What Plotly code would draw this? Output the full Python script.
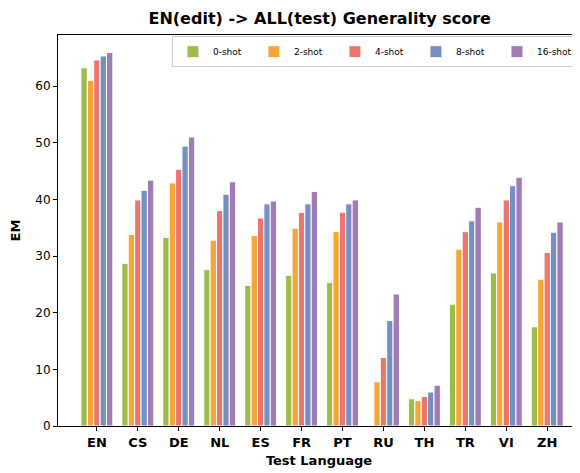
import plotly.graph_objects as go

languages = ["EN", "CS", "DE", "NL", "ES", "FR", "PT", "RU", "TH", "TR", "VI", "ZH"]
series_names = ["0-shot", "2-shot", "4-shot", "8-shot", "16-shot"]

shot0 = [63.2, 28.7, 33.3, 27.6, 24.8, 26.6, 25.3, 0.0, 4.8, 21.5, 27.0, 17.5]
shot2 = [61.0, 33.8, 42.9, 32.8, 33.6, 34.9, 34.3, 7.8, 4.5, 31.2, 36.0, 25.9]
shot4 = [64.6, 39.9, 45.3, 38.0, 36.7, 37.7, 37.7, 12.1, 5.2, 34.3, 39.9, 30.6]
shot8 = [65.3, 41.6, 49.4, 40.9, 39.2, 39.2, 39.2, 18.6, 6.0, 36.2, 42.4, 34.2]
shot16 = [65.9, 43.4, 51.0, 43.1, 39.7, 41.4, 39.9, 23.3, 7.2, 38.6, 43.9, 36.0]

colors = ["#9bbb4a", "#f5a637", "#ee756e", "#768fc2", "#a07cb6"]
all_series = [shot0, shot2, shot4, shot8, shot16]

font = "DejaVu Sans, Liberation Sans, sans-serif"

fig = go.Figure()
for name, vals, col in zip(series_names, all_series, colors):
    fig.add_trace(go.Bar(
        x=languages, y=vals, name=name,
        marker=dict(color=col, line=dict(color="white", width=1)),
    ))

# page body has an 8px margin, so the figure is drawn 8px in from the corner
fig.update_layout(
    width=572, height=465,
    barmode="group", bargap=0.22, bargroupgap=0.0,
    plot_bgcolor="white", paper_bgcolor="white",
    font=dict(family=font, size=12, color="black"),
    title=dict(text="<b>EN(edit) -> ALL(test) Generality score</b>",
               x=0.545, xanchor="center", y=0.99, yanchor="top",
               font=dict(size=16)),
    margin=dict(l=50, r=0, t=27, b=47),
    legend=dict(orientation="h", x=0.998, xanchor="right", y=0.997, yanchor="top",
                bgcolor="rgba(255,255,255,0.85)", bordercolor="#cccccc", borderwidth=1,
                font=dict(size=9), itemwidth=30, entrywidth=36, tracegroupgap=0),
    showlegend=True,
)

fig.update_xaxes(
    range=[-0.95, 11.8], showgrid=False,
    showline=True, linecolor="black", linewidth=1, mirror=True,
    ticks="outside", ticklen=4, tickcolor="black",
    tickfont=dict(size=13),
    tickvals=list(range(len(languages))),
    ticktext=["<b>%s</b>" % l for l in languages],
    title=dict(text="<b>Test Language</b>", font=dict(size=13), standoff=7),
)
fig.update_yaxes(
    range=[0, 69], showgrid=False, zeroline=False,
    showline=True, linecolor="black", linewidth=1,
    ticks="outside", ticklen=4, tickcolor="black",
    tickvals=[0, 10, 20, 30, 40, 50, 60], tickfont=dict(size=12),
    title=dict(text="<b>EM</b>", font=dict(size=13), standoff=12),
)

fig.write_html("out.html")
